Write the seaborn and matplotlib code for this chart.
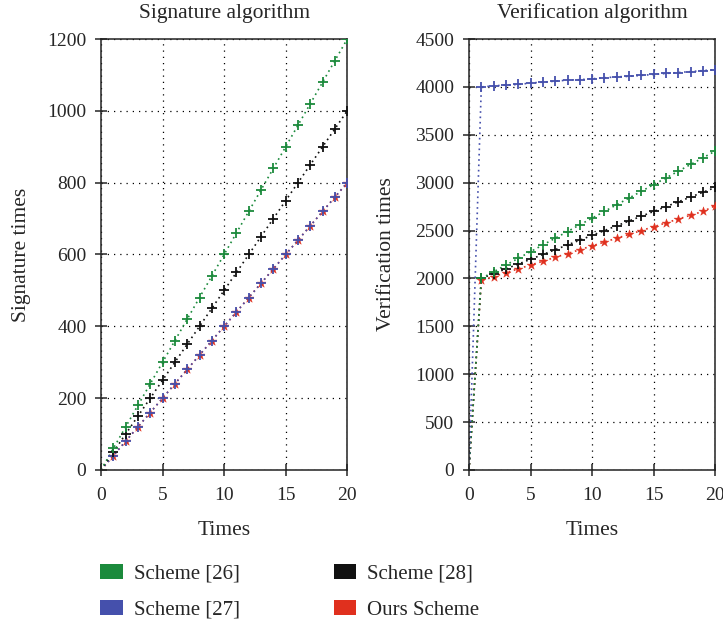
import numpy as np
import pandas as pd
import matplotlib
matplotlib.use('Agg')
import matplotlib.pyplot as plt
from matplotlib.patches import Patch
import seaborn as sns

# data
times = list(range(0, 21))

sig_26 = [0, 60, 120, 180, 240, 300, 360, 420, 480, 540, 600, 660, 720, 780, 840, 900, 960, 1020, 1080, 1140, 1200]
sig_27 = [0, 40, 80, 120, 160, 200, 240, 280, 320, 360, 400, 440, 480, 520, 560, 600, 640, 680, 720, 760, 800]
sig_28 = [0, 50, 100, 150, 200, 250, 300, 350, 400, 450, 500, 550, 600, 650, 700, 750, 800, 850, 900, 950, 1000]
sig_ours = [0, 40, 80, 120, 160, 200, 240, 280, 320, 360, 400, 440, 480, 520, 560, 600, 640, 680, 720, 760, 800]

ver_26 = [0, 2000, 2070, 2140, 2210, 2280, 2350, 2420, 2490, 2560, 2630, 2700, 2770, 2840, 2910, 2980, 3050, 3120, 3190, 3260, 3330]
ver_27 = [0, 4000, 4010, 4020, 4025, 4040, 4050, 4060, 4070, 4075, 4085, 4095, 4105, 4110, 4120, 4130, 4140, 4150, 4160, 4170, 4180]
ver_28 = [0, 2000, 2050, 2100, 2150, 2200, 2250, 2300, 2350, 2400, 2450, 2500, 2550, 2600, 2650, 2700, 2750, 2800, 2850, 2900, 2950]
ver_ours = [0, 1980, 2020, 2060, 2100, 2140, 2180, 2220, 2260, 2300, 2340, 2380, 2420, 2460, 2500, 2540, 2580, 2620, 2660, 2700, 2760]

names = ['Scheme [26]', 'Scheme [27]', 'Scheme [28]', 'Ours Scheme']
colors = {'Scheme [26]': '#1b8a3c', 'Scheme [27]': '#4550ac', 'Scheme [28]': '#111111', 'Ours Scheme': '#e0301e'}
markers = {'Scheme [26]': '+', 'Scheme [27]': '+', 'Scheme [28]': '+', 'Ours Scheme': '*'}

sns.set_style('ticks')
plt.rcParams['font.family'] = ['Liberation Serif', 'DejaVu Serif']

fig = plt.figure(figsize=(7.23, 6.24), dpi=100)
ax1 = fig.add_axes([0.1397, 0.2468, 0.3406, 0.6907])
ax2 = fig.add_axes([0.6487, 0.2468, 0.3406, 0.6907])


def draw(ax, series, order):
    for name in order:
        vals = series[name]
        c = colors[name]
        sns.lineplot(x=times, y=vals, ax=ax, color=c, linestyle=(0, (1, 2.2)), linewidth=1.2)
        df = pd.DataFrame({'t': times[1:], 'v': vals[1:]})
        if markers[name] == '*':
            sns.scatterplot(data=df, x='t', y='v', ax=ax, color=c, marker='*', s=45,
                            linewidth=0.3, edgecolor=c, zorder=3)
        else:
            sns.scatterplot(data=df, x='t', y='v', ax=ax, color=c, marker='+', s=45,
                            linewidth=1.3, zorder=4)


sig = dict(zip(names, [sig_26, sig_27, sig_28, sig_ours]))
ver = dict(zip(names, [ver_26, ver_27, ver_28, ver_ours]))

draw(ax1, sig, ['Ours Scheme', 'Scheme [27]', 'Scheme [28]', 'Scheme [26]'])
draw(ax2, ver, ['Ours Scheme', 'Scheme [28]', 'Scheme [26]', 'Scheme [27]'])

for ax, title, ylab, ymax, ystep, ypad in [(ax1, 'Signature algorithm', 'Signature times', 1200, 200, 12),
                                           (ax2, 'Verification algorithm', 'Verification times', 4500, 500, 14)]:
    ax.set_xlim(0, 20)
    ax.set_ylim(0, ymax)
    ax.set_xticks([0, 5, 10, 15, 20])
    ax.set_yticks(np.arange(0, ymax + 1, ystep))
    ax.grid(True, color='black', linestyle=(0, (1, 4)), linewidth=0.9)
    ax.set_title(title, fontsize=15.5, pad=15)
    ax.set_xlabel('Times', fontsize=15.5, labelpad=12)
    ax.set_ylabel(ylab, fontsize=15.5, labelpad=ypad)
    ax.tick_params(axis='x', labelsize=14, direction='inout', length=9, width=1.1, pad=8)
    ax.tick_params(axis='y', labelsize=14, direction='inout', length=9, width=1.1, pad=6)
    for s in ax.spines.values():
        s.set_visible(True)
        s.set_linewidth(1.1)
        s.set_color('#222222')

handles = [Patch(facecolor=colors[n], edgecolor='none') for n in ['Scheme [26]', 'Scheme [27]', 'Scheme [28]', 'Ours Scheme']]
labels = ['Scheme [26]', 'Scheme [27]', 'Scheme [28]', 'Ours Scheme']
fig.legend(handles, labels, ncol=2, loc='upper left', bbox_to_anchor=(0.113, 0.126),
           frameon=False, fontsize=15, handlelength=1.1, handleheight=0.7,
           columnspacing=4.5, labelspacing=0.8, handletextpad=0.5)

fig.savefig('out.png', dpi=100)
